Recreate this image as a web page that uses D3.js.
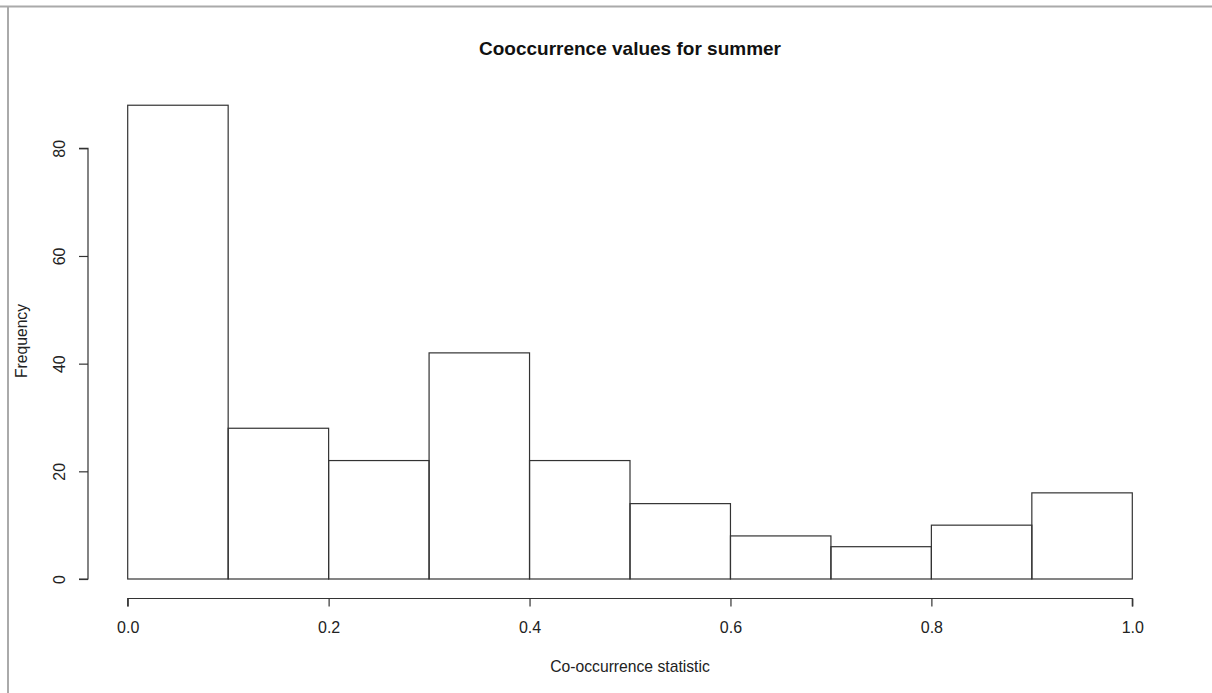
<!DOCTYPE html>
<html>
<head>
<meta charset="utf-8">
<script src="https://cdn.jsdelivr.net/npm/d3@7"></script>
<style>
  html, body { margin: 0; padding: 0; background: #fff; }
  svg { display: block; font-family: "Liberation Sans", Arial, sans-serif; }
</style>
</head>
<body>
<div id="chart"></div>
<script>
// histogram data: bin edges and counts
const binStarts = [0.0, 0.1, 0.2, 0.3, 0.4, 0.5, 0.6, 0.7, 0.8, 0.9];
const binEnds   = [0.1, 0.2, 0.3, 0.4, 0.5, 0.6, 0.7, 0.8, 0.9, 1.0];
const counts    = [88, 28, 22, 42, 22, 14, 8, 6, 10, 16];

const xTicks = [0.0, 0.2, 0.4, 0.6, 0.8, 1.0];
const yTicks = [0, 20, 40, 60, 80];

const width = 1212, height = 693;
const lineColor = "#333";

const svg = d3.select("#chart").append("svg")
  .attr("width", width)
  .attr("height", height);

// grey frame (top + left edges visible in the screenshot)
svg.append("line").attr("x1", 0).attr("x2", width).attr("y1", 6.5).attr("y2", 6.5)
  .attr("stroke", "#aaa").attr("stroke-width", 2);
svg.append("line").attr("x1", 8).attr("x2", 8).attr("y1", 6).attr("y2", height)
  .attr("stroke", "#aaa").attr("stroke-width", 2);

const x = d3.scaleLinear().domain([0, 1]).range([127.7, 1132.3]);
const y = d3.scaleLinear().domain([0, 80]).range([579, 148.3]);

// bars
svg.append("g")
  .selectAll("rect")
  .data(counts)
  .enter()
  .append("rect")
  .attr("x", (d, i) => x(binStarts[i]))
  .attr("width", (d, i) => x(binEnds[i]) - x(binStarts[i]))
  .attr("y", d => y(d))
  .attr("height", d => y(0) - y(d))
  .attr("fill", "none")
  .attr("stroke", lineColor)
  .attr("stroke-width", 1.2);

// x axis (R style, offset below the bars)
const xAxis = svg.append("g")
  .attr("transform", "translate(0,598.5)")
  .call(d3.axisBottom(x).tickValues(xTicks).tickFormat(d3.format(".1f")).tickSize(8).tickPadding(15));
xAxis.select(".domain").attr("d", `M${x(0)},8V0H${x(1)}V8`).attr("stroke", lineColor).attr("stroke-width", 1.2);
xAxis.selectAll(".tick line").attr("stroke", lineColor).attr("stroke-width", 1.2);
xAxis.selectAll(".tick text").attr("fill", "#222").style("font-size", "16px")
  .style("font-family", "'Liberation Sans', Arial, sans-serif");

// y axis (labels rotated like R's las=0)
const yAxis = svg.append("g")
  .attr("transform", "translate(88,0)")
  .call(d3.axisLeft(y).tickValues(yTicks).tickSize(9).tickFormat(d => d));
yAxis.select(".domain").attr("d", `M-9,${y(0)}H0V${y(80)}H-9`).attr("stroke", lineColor).attr("stroke-width", 1.2);
yAxis.selectAll(".tick line").attr("stroke", lineColor).attr("stroke-width", 1.2);
yAxis.selectAll(".tick text")
  .attr("fill", "#222")
  .attr("x", null).attr("dy", null)
  .attr("text-anchor", "middle")
  .attr("transform", "translate(-23,0) rotate(-90)")
  .style("font-size", "16px")
  .style("font-family", "'Liberation Sans', Arial, sans-serif");

// title
svg.append("text")
  .attr("x", 630)
  .attr("y", 55)
  .attr("text-anchor", "middle")
  .style("font-size", "19px")
  .style("font-weight", "bold")
  .attr("fill", "#111")
  .text("Cooccurrence values for summer");

// axis labels
svg.append("text")
  .attr("x", 630)
  .attr("y", 672)
  .attr("text-anchor", "middle")
  .style("font-size", "15.7px")
  .attr("fill", "#222")
  .text("Co-occurrence statistic");

svg.append("text")
  .attr("transform", "translate(26.5,341) rotate(-90)")
  .attr("text-anchor", "middle")
  .style("font-size", "15.7px")
  .attr("fill", "#222")
  .text("Frequency");
</script>
</body>
</html>
